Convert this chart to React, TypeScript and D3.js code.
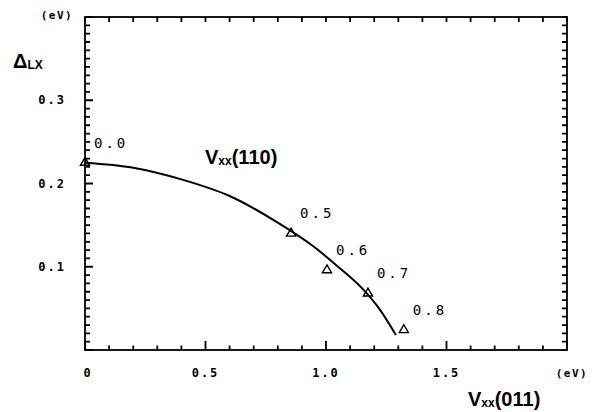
import React from "react";
import * as d3 from "d3";

// curve V_xx(110)
const curveX = [0, 0.2, 0.4, 0.6, 0.8, 0.95, 1.05, 1.15, 1.22, 1.29];
const curveY = [0.225, 0.219, 0.205, 0.185, 0.153, 0.124, 0.1, 0.074, 0.05, 0.018];

// triangle points and their labels
const pointX = [0, 0.855, 1.004, 1.174, 1.323];
const pointY = [0.225, 0.14, 0.096, 0.068, 0.024];
const pointLabels = ["0.0", "0.5", "0.6", "0.7", "0.8"];

const xTickLabels = [0, 0.5, 1.0, 1.5];
const yTickLabels = [0.1, 0.2, 0.3];

const W = 602;
const H = 412;
const margin = { top: 17, right: 35, bottom: 62, left: 85 };

const mono = "'DejaVu Sans Mono', monospace";
const sans = "'Liberation Sans', Arial, sans-serif";

export default function App() {
  const x = d3.scaleLinear().domain([0, 2]).range([margin.left, W - margin.right]);
  const y = d3.scaleLinear().domain([0, 0.4]).range([H - margin.bottom, margin.top]);

  const xMinor = x.ticks(20);
  const yMinor = y.ticks(40);
  const isMajor = (d: number, step: number) => Math.abs(d / step - Math.round(d / step)) < 1e-6;

  const line = d3.line<number>()
    .x((_, i) => x(curveX[i]))
    .y(d => y(d))
    .curve(d3.curveMonotoneX);

  const tri = d3.symbol().type(d3.symbolTriangle).size(36)();

  const x0 = x(0), x1 = x(2), y0 = y(0), y1 = y(0.4);

  // inward ticks, one path per side
  const bottomTicks = xMinor.map(d => `M${x(d)},${y0}V${y0 - (isMajor(d, 0.5) ? 9 : 4.5)}`).join("");
  const topTicks = xMinor.map(d => `M${x(d)},${y1}V${y1 + 5}`).join("");
  const leftTicks = yMinor.map(d => `M${x0},${y(d)}H${x0 + (isMajor(d, 0.1) ? 8 : 5)}`).join("");
  const rightTicks = yMinor.map(d => `M${x1},${y(d)}H${x1 - 5}`).join("");

  return (
    <svg width={W} height={H} style={{ position: "absolute", left: 0, top: 0, background: "#fff" }}>
      {/* frame */}
      <rect x={x0} y={y1} width={x1 - x0} height={y0 - y1} fill="none" stroke="#000" strokeWidth={1.8} />

      <path d={bottomTicks + topTicks + leftTicks + rightTicks} fill="none" stroke="#000" strokeWidth={1.8} />

      {/* tick labels */}
      {xTickLabels.map(d => (
        <text key={"xl" + d} x={x(d) + (d === 0 ? 3 : 0)} y={y0 + 27} textAnchor="middle"
          fontFamily={mono} fontSize={12} fontWeight="bold" letterSpacing={2}>
          {d === 0 ? "0" : d3.format(".1f")(d)}
        </text>
      ))}
      {yTickLabels.map(d => (
        <text key={"yl" + d} x={x0 - 19} y={y(d) + 4} textAnchor="end"
          fontFamily={mono} fontSize={12} fontWeight="bold" letterSpacing={2}>
          {d3.format(".1f")(d)}
        </text>
      ))}

      {/* units */}
      <text x={57} y={19} textAnchor="middle" fontFamily={mono} fontSize={11} fontWeight="bold" letterSpacing={1.5}>(eV)</text>
      <text x={572} y={y0 + 27} textAnchor="middle" fontFamily={mono} fontSize={11} fontWeight="bold" letterSpacing={1.5}>(eV)</text>

      {/* axis titles */}
      <text x={13} y={68} fontFamily={sans} fontWeight="bold">
        <tspan fontSize={20}>Δ</tspan>
        <tspan fontSize={12} dy={1}>LX</tspan>
      </text>
      <text x={468} y={406} fontFamily={sans} fontWeight="bold">
        <tspan fontSize={20}>V</tspan>
        <tspan fontSize={12} dy={1}>xx</tspan>
        <tspan fontSize={20} dy={-1}>(011)</tspan>
      </text>

      {/* curve label */}
      <text x={205} y={164} fontFamily={sans} fontWeight="bold">
        <tspan fontSize={20}>V</tspan>
        <tspan fontSize={12} dy={1}>xx</tspan>
        <tspan fontSize={20} dy={-1}>(110)</tspan>
      </text>

      {/* curve */}
      <path d={line(curveY) || ""} fill="none" stroke="#000" strokeWidth={2} />

      {/* triangles */}
      {pointY.map((d, i) => (
        <path key={"p" + i} d={tri || ""} transform={`translate(${x(pointX[i])},${y(d)})`}
          fill="none" stroke="#000" strokeWidth={1.4} />
      ))}
      {pointLabels.map((d, i) => (
        <text key={"pl" + i} x={x(pointX[i]) + 9} y={y(pointY[i]) - 15}
          fontFamily={mono} fontSize={14} letterSpacing={3}>
          {d}
        </text>
      ))}
    </svg>
  );
}
